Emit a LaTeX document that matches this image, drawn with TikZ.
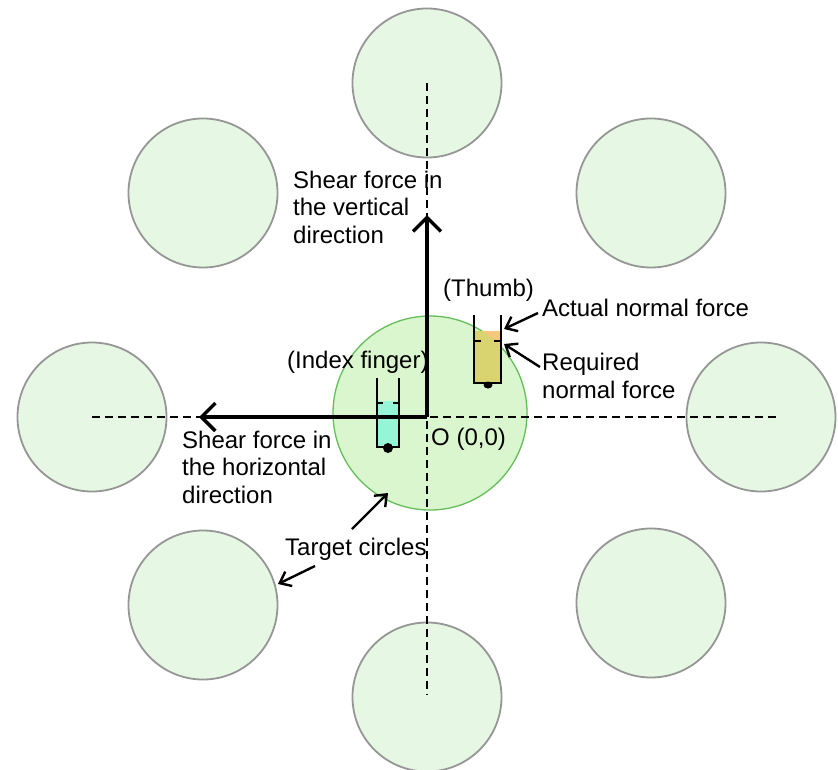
\documentclass[tikz,border=0pt]{standalone}
\usepackage{fontspec}
\setmainfont{Liberation Sans}
\usetikzlibrary{arrows.meta}
\definecolor{outerfill}{RGB}{230,248,228}
\definecolor{outerline}{RGB}{150,150,150}
\definecolor{centerfill}{RGB}{218,246,206}
\definecolor{centerline}{RGB}{100,190,90}
\definecolor{indexfill}{RGB}{150,245,215}
\definecolor{thumbfill}{RGB}{245,200,125}
\definecolor{thumbin}{RGB}{217,211,112}
\begin{document}
\begin{tikzpicture}[x=1pt,y=-1pt,
  target/.style={circle,draw=outerline,fill=outerfill,line width=1.8pt,minimum size=149pt,inner sep=0pt},
  centre/.style={circle,draw=centerline,fill=centerfill,line width=1.3pt,minimum size=194pt,inner sep=0pt},
  axisline/.style={dash pattern=on 8pt off 5pt,line width=2.2pt},
  shear/.style={line width=3.4pt,-{Straight Barb[length=14pt,width=28pt]}},
  pointer/.style={line width=2.4pt,-{Straight Barb[length=10pt,width=16pt]}},
  lbl/.style={inner sep=0pt,anchor=base west,align=left,font=\fontsize{24}{27.5}\selectfont},
  barline/.style={line width=2.6pt}]
\useasboundingbox (0,0) rectangle (838,769);
\fill[white] (0,0) rectangle (838,769);

% outer target circles
\node[target] (ctop) at (427,83) {};
\node[target] (ctl) at (203,193) {};
\node[target] (ctr) at (651,193) {};
\node[target] (cleft) at (92,417) {};
\node[target] (cright) at (761,417) {};
\node[target] (cbl) at (203,605) {};
\node[target] (cbr) at (651,603) {};
\node[target] (cbot) at (427,697) {};

% central circle
\node[centre] (ccen) at (430,413) {};

% finger bars fills
\fill[indexfill] (377,401) rectangle (399,447);
\fill[thumbfill] (474,331) rectangle (501,383);
\begin{scope}
  \clip (430,413) circle (97);
  \fill[thumbin] (474,331) rectangle (501,383);
\end{scope}

% axes
\coordinate (O) at (427,417);
\coordinate (vtop) at (427,83);
\coordinate (vbot) at (427,695);
\coordinate (hleft) at (92,417);
\coordinate (hright) at (780,417);
\draw[axisline] (vtop) -- (vbot);
\draw[axisline] (hleft) -- (hright);

% index finger bar
\draw[barline] (377,378) -- (377,447) -- (399,447) -- (399,378);
\draw[barline] (377,403) -- (383,403);
\draw[barline] (393,403) -- (399,403);
\fill (388,448) circle (5);

% thumb bar
\draw[barline] (474,315) -- (474,383) -- (501,383) -- (501,315);
\draw[barline] (474,341) -- (481,341);
\draw[barline] (494,341) -- (501,341);
\fill (488,385) ellipse [x radius=4.5, y radius=3.5];

% shear arrows
\coordinate (vtip) at (427,215);
\coordinate (htip) at (199,417);
\draw[shear] (O) -- (vtip);
\draw[shear] (O) -- (htip);

% labels
\node[lbl] (vlabel) at (293,243) {Shear force in\\the vertical\\direction};
\node[lbl] (hlabel) at (182,503) {Shear force in\\the horizontal\\direction};
\node[lbl] (thumb) at (443,296) {(Thumb)};
\node[lbl] (actual) at (542,316) {Actual normal force};
\node[lbl] (required) at (542,398) {Required\\normal force};
\node[lbl] (index) at (287,368) {(Index finger)};
\node[lbl] (origin) at (431,445) {O (0,0)};
\node[lbl] (targets) at (285,555) {Target circles};

% pointers
\coordinate (acttail) at (538,313);
\coordinate (acttip) at (504,329);
\coordinate (reqtail) at (540,367);
\coordinate (reqtip) at (504,344);
\coordinate (tgtail1) at (352,529);
\coordinate (tgtip1) at (388,493);
\coordinate (tgtail2) at (315,566);
\coordinate (tgtip2) at (278,584);
\draw[pointer] (acttail) -- (acttip);
\draw[pointer] (reqtail) -- (reqtip);
\draw[pointer] (tgtail1) -- (tgtip1);
\draw[pointer] (tgtail2) -- (tgtip2);
\end{tikzpicture}
\end{document}
